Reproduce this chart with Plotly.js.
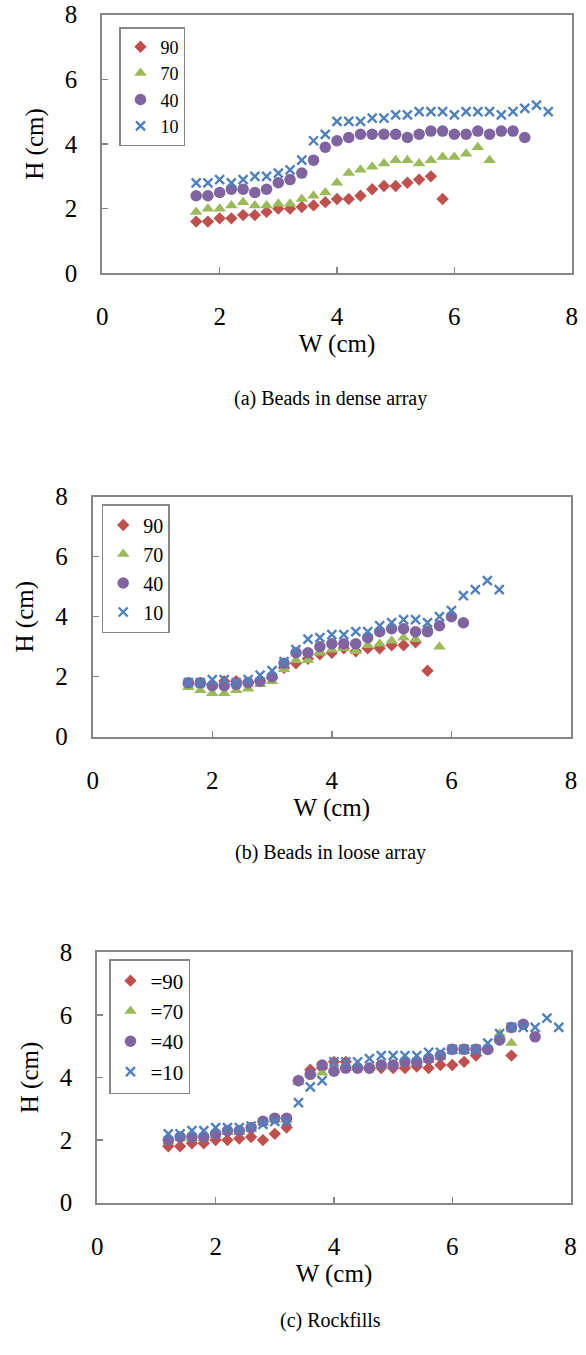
<!DOCTYPE html>
<html>
<head>
<meta charset="utf-8">
<script src="https://cdn.plot.ly/plotly-3.0.1.min.js"></script>
<style>
  html, body { margin: 0; padding: 0; background: #ffffff; }
  #chart { width: 586px; height: 1355px; }
</style>
</head>
<body>
<div id="chart"></div>
<script>
// ---------- data ----------
const seriesNames = ["90", "70", "40", "10"];
const seriesNamesC = ["=90", "=70", "=40", "=10"];
const captions = ["(a) Beads in dense array", "(b) Beads in loose array", "(c) Rockfills"];
const xTitle = "W (cm)";
const yTitle = "H (cm)";

// (a) Beads in dense array
const a90W = [1.6,1.8,2.0,2.2,2.4,2.6,2.8,3.0,3.2,3.4,3.6,3.8,4.0,4.2,4.4,4.6,4.8,5.0,5.2,5.4,5.6,5.8];
const a90H = [1.6,1.6,1.7,1.7,1.8,1.8,1.9,2.0,2.0,2.05,2.1,2.2,2.3,2.3,2.4,2.6,2.7,2.7,2.8,2.9,3.0,2.3];
const a70W = [1.6,1.8,2.0,2.2,2.4,2.6,2.8,3.0,3.2,3.4,3.6,3.8,4.0,4.2,4.4,4.6,4.8,5.0,5.2,5.4,5.6,5.8,6.0,6.2,6.4,6.6];
const a70H = [1.9,2.0,2.0,2.1,2.2,2.1,2.1,2.15,2.15,2.3,2.4,2.5,2.8,3.1,3.2,3.3,3.4,3.5,3.5,3.4,3.5,3.6,3.6,3.7,3.9,3.5];
const a40W = [1.6,1.8,2.0,2.2,2.4,2.6,2.8,3.0,3.2,3.4,3.6,3.8,4.0,4.2,4.4,4.6,4.8,5.0,5.2,5.4,5.6,5.8,6.0,6.2,6.4,6.6,6.8,7.0,7.2];
const a40H = [2.4,2.4,2.5,2.6,2.6,2.5,2.6,2.8,2.9,3.1,3.5,3.9,4.1,4.2,4.3,4.3,4.3,4.3,4.2,4.3,4.4,4.4,4.3,4.3,4.4,4.3,4.4,4.4,4.2];
const a10W = [1.6,1.8,2.0,2.2,2.4,2.6,2.8,3.0,3.2,3.4,3.6,3.8,4.0,4.2,4.4,4.6,4.8,5.0,5.2,5.4,5.6,5.8,6.0,6.2,6.4,6.6,6.8,7.0,7.2,7.4,7.6];
const a10H = [2.8,2.8,2.9,2.8,2.9,3.0,3.0,3.1,3.2,3.5,4.1,4.3,4.7,4.7,4.7,4.8,4.8,4.9,4.9,5.0,5.0,5.0,4.9,5.0,5.0,5.0,4.9,5.0,5.1,5.2,5.0];

// (b) Beads in loose array
const b90W = [1.6,1.8,2.0,2.2,2.4,2.6,2.8,3.0,3.2,3.4,3.6,3.8,4.0,4.2,4.4,4.6,4.8,5.0,5.2,5.4,5.6];
const b90H = [1.75,1.75,1.75,1.85,1.85,1.8,1.85,1.95,2.3,2.45,2.6,2.75,2.8,2.95,2.85,2.95,2.95,3.05,3.05,3.15,2.2];
const b70W = [1.6,1.8,2.0,2.2,2.4,2.6,2.8,3.0,3.2,3.4,3.6,3.8,4.0,4.2,4.4,4.6,4.8,5.0,5.2,5.4,5.6,5.8];
const b70H = [1.65,1.55,1.45,1.45,1.55,1.6,1.75,1.85,2.25,2.55,2.55,2.8,2.9,2.95,2.85,3.05,3.1,3.2,3.3,3.25,3.65,3.0];
const b40W = [1.6,1.8,2.0,2.2,2.4,2.6,2.8,3.0,3.2,3.4,3.6,3.8,4.0,4.2,4.4,4.6,4.8,5.0,5.2,5.4,5.6,5.8,6.0,6.2];
const b40H = [1.8,1.8,1.7,1.7,1.75,1.8,1.85,2.0,2.45,2.8,2.8,3.0,3.1,3.1,3.1,3.3,3.5,3.6,3.6,3.5,3.5,3.7,4.0,3.8];
const b10W = [1.6,1.8,2.0,2.2,2.4,2.6,2.8,3.0,3.2,3.4,3.6,3.8,4.0,4.2,4.4,4.6,4.8,5.0,5.2,5.4,5.6,5.8,6.0,6.2,6.4,6.6,6.8];
const b10H = [1.8,1.8,1.9,1.9,1.8,1.9,2.05,2.2,2.5,2.9,3.25,3.3,3.4,3.4,3.5,3.5,3.7,3.8,3.9,3.9,3.8,4.0,4.2,4.7,4.9,5.2,4.9];

// (c) Rockfills
const c90W = [1.2,1.4,1.6,1.8,2.0,2.2,2.4,2.6,2.8,3.0,3.2,3.4,3.6,3.8,4.0,4.2,4.4,4.6,4.8,5.0,5.2,5.4,5.6,5.8,6.0,6.2,6.4,6.6,6.8,7.0];
const c90H = [1.8,1.8,1.9,1.9,2.0,2.0,2.05,2.1,2.0,2.2,2.4,3.9,4.25,4.3,4.5,4.5,4.3,4.3,4.3,4.3,4.3,4.35,4.3,4.4,4.4,4.5,4.7,4.9,5.2,4.7];
const c70W = [1.2,1.4,1.6,1.8,2.0,2.2,2.4,2.6,2.8,3.0,3.2,3.4,3.6,3.8,4.0,4.2,4.4,4.6,4.8,5.0,5.2,5.4,5.6,5.8,6.0,6.2,6.4,6.6,6.8,7.0];
const c70H = [1.95,2.05,2.05,2.05,2.15,2.25,2.25,2.35,2.55,2.65,2.65,3.85,4.1,4.15,4.25,4.3,4.3,4.3,4.35,4.4,4.45,4.5,4.55,4.65,4.85,4.85,4.85,4.9,5.4,5.1];
const c40W = [1.2,1.4,1.6,1.8,2.0,2.2,2.4,2.6,2.8,3.0,3.2,3.4,3.6,3.8,4.0,4.2,4.4,4.6,4.8,5.0,5.2,5.4,5.6,5.8,6.0,6.2,6.4,6.6,6.8,7.0,7.2,7.4];
const c40H = [2.0,2.1,2.1,2.1,2.2,2.3,2.3,2.4,2.6,2.7,2.7,3.9,4.1,4.4,4.2,4.3,4.3,4.3,4.4,4.4,4.5,4.5,4.6,4.7,4.9,4.9,4.9,4.9,5.2,5.6,5.7,5.3];
const c10W = [1.2,1.4,1.6,1.8,2.0,2.2,2.4,2.6,2.8,3.0,3.2,3.4,3.6,3.8,4.0,4.2,4.4,4.6,4.8,5.0,5.2,5.4,5.6,5.8,6.0,6.2,6.4,6.6,6.8,7.0,7.2,7.4,7.6,7.8];
const c10H = [2.2,2.2,2.3,2.3,2.4,2.4,2.4,2.45,2.5,2.6,2.6,3.2,3.7,3.9,4.5,4.5,4.5,4.6,4.7,4.7,4.7,4.7,4.8,4.8,4.9,4.9,4.9,5.1,5.4,5.6,5.6,5.6,5.9,5.6];

const xTickVals = [0, 2, 4, 6, 8];
const yTickVals = [0, 2, 4, 6, 8];

// ---------- styles ----------
const FONT = "Liberation Serif";
const AXIS_GRAY = "#868686";
const styles = [
  { symbol: "diamond", size: 9.5, color: "#C0504D" },
  { symbol: "triangle-up", size: 11, color: "#9BBB59" },
  { symbol: "circle", size: 11.5, color: "#8064A2" },
  { symbol: "x-thin", size: 9, color: "#4F81BD" }
];

function makeTrace(W, H, i, names, xa, ya, leg) {
  const s = styles[i];
  const marker = { symbol: s.symbol, size: s.size, color: s.color };
  if (s.symbol === "x-thin") marker.line = { color: s.color, width: 2.4 };
  else marker.line = { width: 0 };
  return {
    type: "scatter", mode: "markers", x: W, y: H, name: names[i],
    xaxis: xa, yaxis: ya, legend: leg, legendgroup: leg + names[i],
    marker: marker, cliponaxis: false, hoverinfo: "x+y"
  };
}

const panels = [
  { data: [[a90W,a90H],[a70W,a70H],[a40W,a40H],[a10W,a10H]], names: seriesNames, xa: "x", ya: "y", leg: "legend" },
  { data: [[b90W,b90H],[b70W,b70H],[b40W,b40H],[b10W,b10H]], names: seriesNames, xa: "x2", ya: "y2", leg: "legend2" },
  { data: [[c90W,c90H],[c70W,c70H],[c40W,c40H],[c10W,c10H]], names: seriesNamesC, xa: "x3", ya: "y3", leg: "legend3" }
];

const traces = [];
panels.forEach(p => p.data.forEach((d, i) => traces.push(makeTrace(d[0], d[1], i, p.names, p.xa, p.ya, p.leg))));

// pixel geometry of the three plot boxes (left, right, top, bottom)
const PW = 586, PH = 1355;
const boxes = [
  { l: 102.3, r: 571.7, t: 14.7, b: 273.3 },
  { l: 92.7,  r: 571.0, t: 496.7, b: 736.7 },
  { l: 97.3,  r: 570.6, t: 952.3, b: 1202.7 }
];
const fx = v => v / PW;
const fy = v => 1 - v / PH;

function xAxis(box) {
  return {
    domain: [fx(box.l), fx(box.r)], range: [0, 8], tickvals: xTickVals,
    showline: true, mirror: true, linecolor: AXIS_GRAY, linewidth: 2,
    ticks: "inside", ticklen: 6, tickwidth: 1.5, tickcolor: AXIS_GRAY,
    showgrid: false, zeroline: false, fixedrange: true,
    tickfont: { family: FONT, size: 25, color: "#000" }, ticklabelstandoff: 20,
    title: { text: xTitle, font: { family: FONT, size: 25, color: "#000" }, standoff: 0 }
  };
}
function yAxis(box) {
  return {
    domain: [fy(box.b), fy(box.t)], range: [0, 8], tickvals: yTickVals,
    showline: true, mirror: true, linecolor: AXIS_GRAY, linewidth: 2,
    ticks: "inside", ticklen: 6, tickwidth: 1.5, tickcolor: AXIS_GRAY,
    showgrid: false, zeroline: false, fixedrange: true,
    tickfont: { family: FONT, size: 25, color: "#000" }, ticklabelstandoff: 18,
    title: { text: yTitle, font: { family: FONT, size: 25, color: "#000" }, standoff: 14 }
  };
}
function legendAt(left, top, size, gap) {
  return {
    x: fx(left), y: fy(top), xanchor: "left", yanchor: "top",
    bgcolor: "#ffffff", bordercolor: AXIS_GRAY, borderwidth: 1.5,
    font: { family: FONT, size: size, color: "#000" },
    tracegroupgap: gap, itemsizing: "trace"
  };
}
function caption(text, yPx) {
  return { text: text, x: fx(330), y: fy(yPx), xref: "paper", yref: "paper",
           xanchor: "center", yanchor: "middle", showarrow: false,
           font: { family: FONT, size: 20, color: "#000" } };
}

const layout = {
  width: PW, height: PH,
  margin: { l: 0, r: 0, t: 0, b: 0 },
  paper_bgcolor: "#ffffff", plot_bgcolor: "#ffffff",
  font: { family: FONT, color: "#000" },
  xaxis: xAxis(boxes[0]), yaxis: Object.assign(yAxis(boxes[0]), { anchor: "x" }),
  xaxis2: Object.assign(xAxis(boxes[1]), { anchor: "y2" }), yaxis2: Object.assign(yAxis(boxes[1]), { anchor: "x2" }),
  xaxis3: Object.assign(xAxis(boxes[2]), { anchor: "y3" }), yaxis3: Object.assign(yAxis(boxes[2]), { anchor: "x3" }),
  legend: legendAt(119, 27, 18, 0),
  legend2: legendAt(101.7, 504, 20, 0),
  legend3: legendAt(109, 959, 21, 0),
  annotations: [caption(captions[0], 398), caption(captions[1], 852), caption(captions[2], 1320)],
  showlegend: true
};

Plotly.newPlot("chart", traces, layout, { staticPlot: true, displayModeBar: false });
</script>
</body>
</html>
